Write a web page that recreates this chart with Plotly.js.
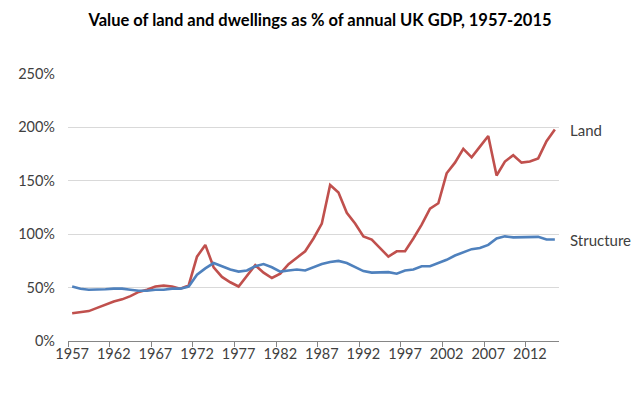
<!DOCTYPE html>
<html>
<head>
<meta charset="utf-8">
<script src="https://cdn.plot.ly/plotly-3.0.1.min.js"></script>
<style>
  html, body { margin: 0; padding: 0; background: #fff; }
  #chart { width: 640px; height: 404px; }
</style>
</head>
<body>
<div id="chart"></div>
<script>
// Years 1957-2015, values as % of annual GDP
const years = [];
for (let y = 1957; y <= 2015; y++) years.push(y);

const land = [
  26, 27, 28, 31, 34, 37, 39, 42, 46, 48,
  51, 52, 51, 49, 52, 79, 90, 69, 60, 55,
  51, 61, 71, 64, 59, 63, 72, 78, 84, 96,
  110, 146, 139, 120, 110, 98, 95, 87, 79, 84,
  84, 96, 109, 124, 129, 157, 167, 180, 172, 182,
  192, 155, 168, 174, 167, 168, 171, 187, 198
];

const structure = [
  51, 49, 48, 48, 48.5, 49, 49, 48, 47, 47,
  48, 48, 49, 49, 51, 62, 68, 73, 70, 67,
  65, 66, 70, 72, 69, 65, 66, 67, 66, 69,
  72, 74, 75, 73, 69, 65.5, 64, 64, 64.5, 63,
  66, 67, 70, 70, 73, 76, 80, 83, 86, 87,
  90, 96, 98, 97, 97, 97.5, 97.5, 95, 95
];

const tickYears = [1957, 1962, 1967, 1972, 1977, 1982, 1987, 1992, 1997, 2002, 2007, 2012];
const yTicks = [0, 50, 100, 150, 200, 250];

const font = 'Lato, "Open Sans", sans-serif';
const textColor = '#404040';

const traces = [
  {
    x: years, y: land, name: 'Land',
    mode: 'lines', line: {color: '#C0504D', width: 2.6},
    hoverinfo: 'skip'
  },
  {
    x: years, y: structure, name: 'Structure',
    mode: 'lines', line: {color: '#4F81BD', width: 2.6},
    hoverinfo: 'skip'
  }
];

// tick marks sit between categories, as in the spreadsheet original
const tickMarks = tickYears.map(y => y - 0.5);

const xr = [1956.5, 2015.5];

const layout = {
  width: 640,
  height: 404,
  margin: {l: 68, r: 81, t: 74, b: 63},
  paper_bgcolor: '#fff',
  plot_bgcolor: '#fff',
  showlegend: false,
  title: {
    text: '<b>Value of land and dwellings as % of annual UK GDP, 1957-2015</b>',
    font: {family: font, size: 16.5, color: '#000'},
    x: 0.5, xanchor: 'center',
    y: 0.95, yanchor: 'middle'
  },
  xaxis: {
    range: xr,
    tickvals: tickYears,
    ticktext: tickYears.map(String),
    ticks: '',
    showgrid: false,
    zeroline: false,
    showline: true,
    linecolor: '#868686',
    linewidth: 1,
    tickfont: {family: font, size: 14.5, color: textColor}
  },
  xaxis2: {
    range: xr,
    overlaying: 'x',
    anchor: 'y',
    side: 'bottom',
    tickvals: tickMarks,
    showticklabels: false,
    ticks: 'outside',
    ticklen: 5,
    tickcolor: '#868686',
    showgrid: false,
    zeroline: false,
    showline: false
  },
  yaxis: {
    range: [0, 250],
    tickvals: yTicks,
    ticktext: yTicks.map(v => v + '%'),
    showgrid: true,
    gridcolor: '#d9d9d9',
    gridwidth: 1,
    zeroline: false,
    showline: false,
    ticks: '',
    ticklabelstandoff: 12,
    tickfont: {family: font, size: 14.5, color: textColor}
  },
  annotations: [
    {
      text: 'Land', xref: 'paper', yref: 'y',
      x: 1.018, y: 198, xanchor: 'left', yanchor: 'middle',
      showarrow: false,
      font: {family: font, size: 15, color: textColor}
    },
    {
      text: 'Structure', xref: 'paper', yref: 'y',
      x: 1.018, y: 95, xanchor: 'left', yanchor: 'middle',
      showarrow: false,
      font: {family: font, size: 15, color: textColor}
    }
  ]
};

// dummy trace so the tick-mark axis is drawn
traces.push({x: xr, y: [null, null], xaxis: 'x2', yaxis: 'y', mode: 'lines', hoverinfo: 'skip'});

Plotly.newPlot('chart', traces, layout, {staticPlot: true, displayModeBar: false});
</script>
</body>
</html>
